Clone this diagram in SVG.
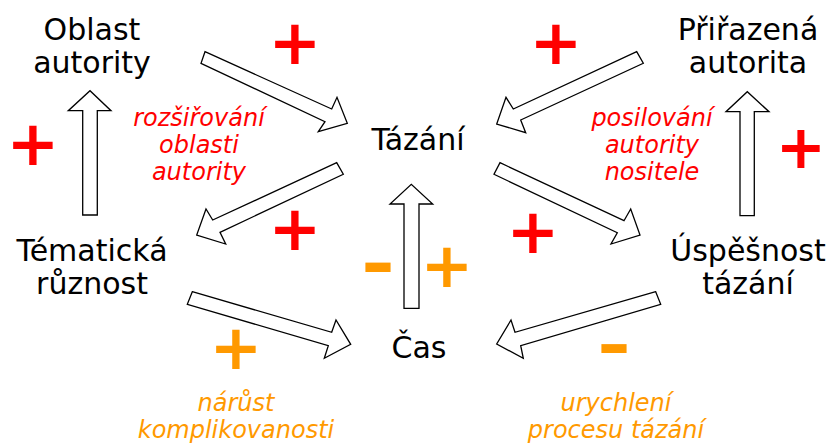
<svg xmlns="http://www.w3.org/2000/svg" width="828" height="444" viewBox="0 0 828 444">
<style>
.lbl{font-family:"DejaVu Sans","Verdana",sans-serif;font-size:30px;fill:#000;text-anchor:middle}
.note{font-family:"DejaVu Sans","Verdana",sans-serif;font-size:24px;font-style:italic;text-anchor:middle}
.red{fill:#ff0000}
.org{fill:#ff9900}
.sign{font-family:"DejaVu Sans",sans-serif;font-weight:bold;font-size:63px;text-anchor:middle}
.arr{fill:#fff;stroke:#000;stroke-width:1.3;stroke-linejoin:miter}
</style>
<rect width="828" height="444" fill="#fff"/>
<g id="connectors">
<polygon class="arr" points="205,51.7 331.7,109 337,97.3 347.3,123.3 318.3,131.7 325,121.7 201,63.3"/>
<polygon class="arr" points="336.7,162.7 212.7,220 206,209 196.7,235 225.7,244 220,232.3 343.3,174.3"/>
<polygon class="arr" points="192.3,291.7 331.7,332.3 336,320 350.7,344.3 324.3,358.3 328.3,345.7 187.3,304.3"/>
<polygon class="arr" points="404,308.3 404,204 390,204 411.3,184.3 432.7,204 419,204 419,308.3"/>
<polygon class="arr" points="636.7,51.7 513.3,109 506,97.3 496.7,124 525.7,132.7 520.7,120 643.3,63.3"/>
<polygon class="arr" points="500,162.7 624,220.7 630.7,209 640,235 611,244 617.3,232.7 494,174.3"/>
<polygon class="arr" points="655.7,291.7 515,332.3 511,320 496.7,344 523.3,358.3 520.7,345.7 660.7,304.3"/>
<polygon class="arr" points="740,215.7 740,111.7 726,111.7 747.3,91.7 769,111.7 754.3,111.7 754.3,215.7"/>
<polygon class="arr" points="82.7,215 82.7,110.7 68.3,110.7 90,90.7 111,110.7 97.3,110.7 97.3,215"/>
</g>
<g id="oblast"><text class="lbl" x="92" y="40">Oblast</text><text class="lbl" x="92" y="73">autority</text></g>
<g id="tematicka"><text class="lbl" x="92" y="261">Tématická</text><text class="lbl" x="92" y="294">různost</text></g>
<g id="tazani"><text class="lbl" x="418" y="150">Tázání</text></g>
<g id="cas"><text class="lbl" x="419" y="358">Čas</text></g>
<g id="prirazena"><text class="lbl" x="748" y="40">Přiřazená</text><text class="lbl" x="748" y="73">autorita</text></g>
<g id="uspesnost"><text class="lbl" x="748" y="261">Úspěšnost</text><text class="lbl" x="748" y="294">tázání</text></g>
<g id="note-rozsirovani"><text class="note red" x="199" y="126">rozšiřování</text><text class="note red" x="199" y="153">oblasti</text><text class="note red" x="199" y="180">autority</text></g>
<g id="note-posilovani"><text class="note red" x="652" y="126">posilování</text><text class="note red" x="652" y="153">autority</text><text class="note red" x="652" y="180">nositele</text></g>
<g id="note-narust"><text class="note org" x="236" y="411">nárůst</text><text class="note org" x="236" y="438">komplikovanosti</text></g>
<g id="note-urychleni"><text class="note org" x="616" y="411">urychlení</text><text class="note org" x="616" y="438">procesu tázání</text></g>
<g id="signs">
<text class="sign red" x="295" y="64">+</text>
<text class="sign red" x="33" y="165">+</text>
<text class="sign red" x="295" y="250">+</text>
<text class="sign red" x="556" y="64">+</text>
<text class="sign red" x="533" y="253">+</text>
<text class="sign red" x="801" y="168" style="font-size:60px">+</text>
<text class="sign org" x="236" y="369">+</text>
<text class="sign org" x="447" y="287">+</text>
<text class="sign org" transform="translate(378,286) scale(1.3,1.05)" x="0" y="0">-</text>
<text class="sign org" transform="translate(614,367) scale(1.3,1)" x="0" y="0">-</text>
</g>
</svg>
